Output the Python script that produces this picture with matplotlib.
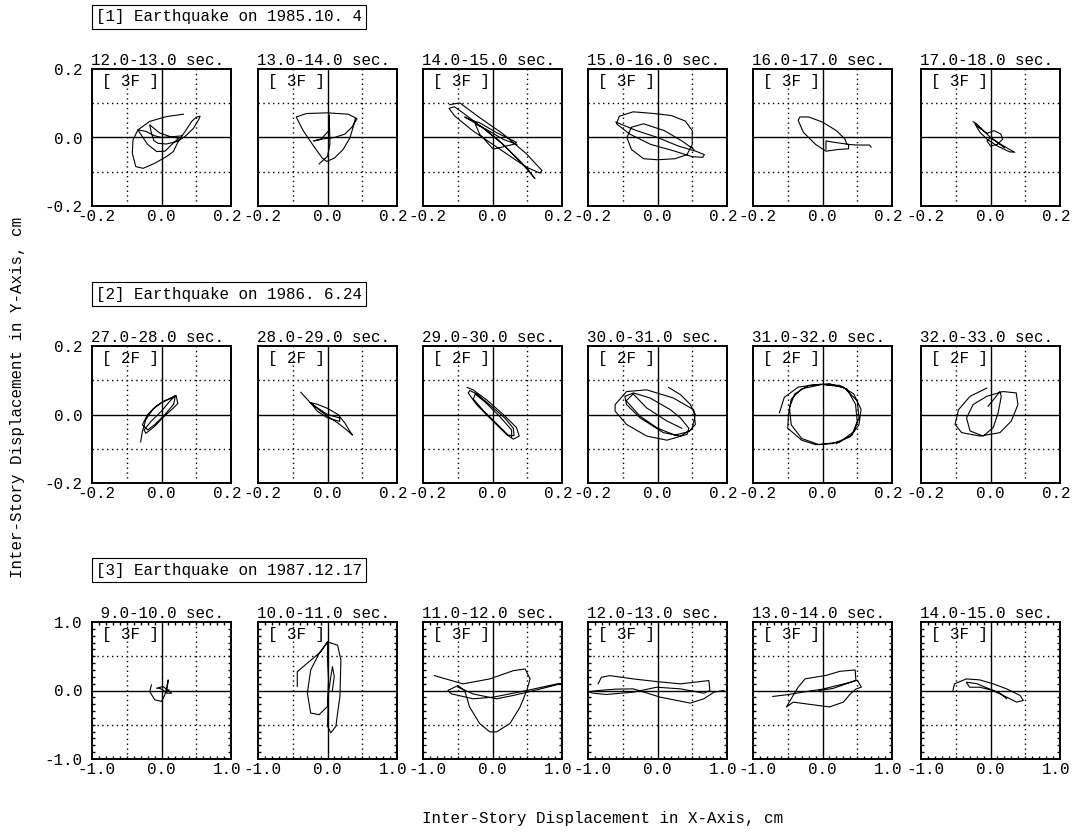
import matplotlib
matplotlib.use("Agg")
import matplotlib.pyplot as plt
import matplotlib.transforms as mtransforms
import numpy as np

plt.rcParams['font.family'] = ['Liberation Mono', 'DejaVu Sans Mono']

# event headers and time windows
events = ['[1] Earthquake on 1985.10. 4', '[2] Earthquake on 1986. 6.24', '[3] Earthquake on 1987.12.17']
floors = ['[ 3F ]', '[ 2F ]', '[ 3F ]']
limits = [0.2, 0.2, 1.0]
tick_labels = [['-0.2', '0.0', '0.2'], ['-0.2', '0.0', '0.2'], ['-1.0', '0.0', '1.0']]
windows = [
    ['12.0-13.0 sec.', '13.0-14.0 sec.', '14.0-15.0 sec.', '15.0-16.0 sec.', '16.0-17.0 sec.', '17.0-18.0 sec.'],
    ['27.0-28.0 sec.', '28.0-29.0 sec.', '29.0-30.0 sec.', '30.0-31.0 sec.', '31.0-32.0 sec.', '32.0-33.0 sec.'],
    [' 9.0-10.0 sec.', '10.0-11.0 sec.', '11.0-12.0 sec.', '12.0-13.0 sec.', '13.0-14.0 sec.', '14.0-15.0 sec.'],
]

# displacement orbits (x, y) in cm, 1985.10.4, 3F
eq1_12 = [(0.063, 0.068), (0.014, 0.061), (-0.034, 0.047), (-0.068, 0.022), (-0.082, -0.007), (-0.084, -0.046),
          (-0.074, -0.085), (-0.053, -0.09), (-0.019, -0.075), (0.014, -0.056), (0.034, -0.041), (0.048, -0.012),
          (0.068, 0.018), (0.087, 0.047), (0.101, 0.06), (0.111, 0.062), (0.108, 0.054), (0.092, 0.027),
          (0.068, 0.003), (0.043, -0.012), (0.014, -0.019), (-0.01, -0.017), (-0.022, -0.009), (-0.029, 0.013),
          (-0.034, 0.037), (-0.022, 0.027), (-0.005, 0.013), (0.024, 0.003), (0.05, -0.002), (0.035, -0.015),
          (0.01, -0.04), (-0.014, -0.041), (-0.04, -0.02), (-0.068, 0.022), (-0.045, 0.018), (-0.02, 0.005),
          (0.0, 0.0), (0.03, 0.002), (0.06, 0.005)]
eq1_13 = [(-0.024, -0.077), (0.0, -0.055), (0.007, -0.02), (0.006, 0.02), (0.005, 0.065), (0.004, 0.02),
          (-0.02, -0.006), (-0.04, -0.01), (-0.02, -0.005), (0.02, 0.0), (0.05, 0.01), (0.07, 0.03), (0.085, 0.055),
          (0.06, 0.068), (0.0, 0.072), (-0.06, 0.07), (-0.09, 0.06), (-0.07, 0.02), (-0.04, -0.025), (-0.015, -0.06),
          (-0.002, -0.07), (0.02, -0.06), (0.045, -0.035), (0.065, 0.0), (0.075, 0.035), (0.08, 0.055)]
eq1_14 = [(-0.123, 0.096), (-0.094, 0.101), (-0.037, 0.058), (0.031, 0.01), (0.098, -0.048), (0.142, -0.096),
          (0.137, -0.104), (0.098, -0.087), (0.021, -0.034), (-0.056, 0.019), (-0.109, 0.063), (-0.125, 0.085),
          (-0.11, 0.09), (-0.085, 0.072), (-0.03, 0.03), (0.03, -0.02), (0.08, -0.07), (0.122, -0.12),
          (0.1, -0.09), (0.06, -0.05), (0.02, -0.01), (-0.03, 0.03), (-0.08, 0.06), (-0.06, 0.05), (-0.037, 0.043),
          (0.012, 0.014), (0.069, -0.014), (0.06, -0.02), (0.002, -0.034), (-0.037, 0.01), (-0.05, 0.04),
          (-0.02, 0.025), (0.03, -0.005), (0.07, -0.02)]
eq1_15 = [(-0.12, 0.045), (-0.06, 0.02), (0.0, 0.0), (0.06, -0.025), (0.11, -0.04), (0.135, -0.05), (0.13, -0.058),
          (0.1, -0.056), (0.05, -0.04), (-0.02, -0.02), (-0.08, 0.01), (-0.118, 0.04), (-0.11, 0.062), (-0.07, 0.075),
          (-0.01, 0.07), (0.04, 0.064), (0.08, 0.048), (0.1, 0.02), (0.1, -0.02), (0.085, -0.05), (0.05, -0.062),
          (0.0, -0.065), (-0.04, -0.062), (-0.075, -0.035), (-0.088, 0.0), (-0.075, 0.03), (-0.04, 0.04),
          (0.02, 0.02), (0.07, -0.01), (0.105, -0.035)]
eq1_16 = [(0.01, -0.035), (0.01, -0.01), (0.04, -0.015), (0.075, -0.02), (0.075, -0.033), (0.045, -0.035),
          (0.01, -0.04), (-0.02, -0.02), (-0.055, 0.015), (-0.07, 0.05), (-0.065, 0.06), (-0.04, 0.06), (0.0, 0.045),
          (0.04, 0.02), (0.065, -0.005), (0.07, -0.02), (0.1, -0.022), (0.135, -0.022), (0.14, -0.028)]
eq1_17 = [(-0.05, 0.046), (-0.04, 0.04), (-0.02, 0.02), (0.0, 0.0), (0.03, -0.02), (0.06, -0.038), (0.07, -0.043),
          (0.055, -0.042), (0.02, -0.025), (-0.01, -0.005), (-0.03, 0.015), (-0.045, 0.04), (-0.035, 0.03),
          (-0.01, 0.012), (0.01, 0.02), (0.03, 0.01), (0.035, -0.005), (0.02, -0.02), (0.0, -0.025), (-0.01, -0.01),
          (0.0, 0.0), (0.02, -0.015), (0.04, -0.03)]

# 1986.6.24, 2F
eq2_27 = [(-0.06, -0.08), (-0.055, -0.05), (-0.045, -0.015), (-0.025, 0.015), (0.0, 0.035), (0.03, 0.05),
          (0.042, 0.056), (0.047, 0.032), (0.03, 0.015), (0.005, -0.008), (-0.02, -0.035), (-0.045, -0.055),
          (-0.05, -0.045), (-0.03, -0.02), (0.0, 0.01), (0.025, 0.04), (0.04, 0.055), (0.035, 0.03), (0.01, 0.0),
          (-0.02, -0.03), (-0.04, -0.045), (-0.055, -0.03), (-0.04, 0.0), (-0.015, 0.025), (0.01, 0.04),
          (0.035, 0.05)]
eq2_28 = [(-0.077, 0.065), (-0.05, 0.035), (-0.02, 0.01), (0.0, -0.005), (0.03, -0.025), (0.055, -0.045),
          (0.072, -0.06), (0.065, -0.05), (0.05, -0.025), (0.03, -0.0), (0.0, 0.018), (-0.03, 0.03),
          (-0.05, 0.035), (-0.03, 0.02), (0.0, 0.0), (0.035, -0.01), (0.035, -0.02), (0.0, -0.01), (-0.03, 0.01),
          (-0.045, 0.03)]
eq2_29 = [(-0.073, 0.079), (-0.056, 0.072), (-0.017, 0.043), (0.031, 0.0), (0.069, -0.038), (0.077, -0.063),
          (0.06, -0.072), (0.04, -0.058), (-0.008, -0.01), (-0.046, 0.029), (-0.07, 0.063), (-0.065, 0.07),
          (-0.045, 0.06), (-0.01, 0.03), (0.035, -0.01), (0.06, -0.04), (0.062, -0.062), (0.045, -0.06),
          (0.015, -0.03), (-0.025, 0.01), (-0.055, 0.045), (-0.05, 0.06), (-0.02, 0.035), (0.02, -0.005),
          (0.055, -0.045), (0.055, -0.065)]
eq2_30 = [(0.032, 0.079), (0.066, 0.058), (0.094, 0.03), (0.109, 0.0), (0.099, -0.043), (0.066, -0.063),
          (0.017, -0.053), (-0.05, -0.01), (-0.089, 0.029), (-0.094, 0.053), (-0.069, 0.063), (-0.021, 0.048),
          (0.037, 0.014), (0.066, -0.01), (0.09, -0.04), (0.085, -0.058), (0.027, -0.075), (-0.031, -0.063),
          (-0.089, -0.029), (-0.122, 0.01), (-0.122, 0.029), (-0.089, 0.067), (-0.031, 0.072), (0.046, 0.048),
          (0.104, 0.014), (0.109, -0.029), (0.09, -0.05), (0.05, -0.06), (0.0, -0.04), (-0.05, -0.005),
          (-0.09, 0.04), (-0.07, 0.06), (-0.031, 0.019), (0.027, -0.019), (0.07, -0.04)]
eq2_31 = [(-0.124, 0.005), (-0.11, 0.05), (-0.07, 0.08), (-0.01, 0.088), (0.05, 0.085), (0.09, 0.06),
          (0.111, 0.015), (0.105, -0.03), (0.08, -0.065), (0.03, -0.085), (-0.02, -0.088), (-0.06, -0.075),
          (-0.1, -0.04), (-0.098, 0.0), (-0.09, 0.045), (-0.06, 0.075), (0.0, 0.088), (0.06, 0.08), (0.1, 0.04),
          (0.105, -0.01), (0.09, -0.05), (0.05, -0.08), (-0.01, -0.088), (-0.06, -0.07), (-0.09, -0.03),
          (-0.095, 0.02), (-0.08, 0.06), (-0.04, 0.085), (0.02, 0.09), (0.07, 0.075), (0.095, 0.03), (0.1, -0.02),
          (0.085, -0.06), (0.04, -0.085)]
eq2_32 = [(-0.011, 0.077), (-0.059, 0.053), (-0.092, 0.014), (-0.102, -0.029), (-0.083, -0.053),
          (-0.03, -0.063), (0.027, -0.053), (0.06, -0.019), (0.079, 0.029), (0.074, 0.063), (0.036, 0.067),
          (-0.011, 0.053), (-0.05, 0.029), (-0.069, -0.01), (-0.059, -0.048), (-0.021, -0.063), (0.008, -0.038),
          (0.022, 0.005), (0.031, 0.053), (0.027, 0.067), (0.01, 0.045), (-0.007, 0.024)]

# 1987.12.17, 3F
eq3_09 = [(-0.145, 0.082), (-0.17, -0.015), (-0.097, -0.135), (0.0, -0.16), (0.048, -0.063), (0.072, 0.034),
          (0.097, 0.155), (0.072, -0.039), (0.145, -0.039), (0.024, 0.058), (-0.072, 0.034), (-0.02, 0.03),
          (0.06, -0.02), (0.11, 0.01)]
eq3_10 = [(-0.435, 0.058), (-0.435, 0.275), (-0.266, 0.42), (-0.097, 0.565), (0.0, 0.71), (-0.121, 0.541),
          (-0.242, 0.3), (-0.29, -0.039), (-0.242, -0.329), (-0.121, -0.353), (0.0, -0.232), (0.014, 0.155),
          (0.0, 0.45), (0.0, 0.71), (0.145, 0.662), (0.193, 0.444), (0.179, -0.087), (0.145, -0.329),
          (0.121, -0.522), (0.048, -0.618), (0.0, -0.52), (0.014, -0.039), (0.048, 0.203), (0.072, 0.348),
          (0.097, 0.203), (0.07, 0.0)]
eq3_11 = [(-0.836, 0.217), (-0.425, 0.097), (-0.039, 0.169), (0.3, 0.29), (0.469, 0.314), (0.541, 0.169),
          (0.493, 0.0), (0.396, -0.242), (0.251, -0.483), (0.058, -0.604), (-0.039, -0.604), (-0.184, -0.483),
          (-0.329, -0.242), (-0.401, 0.0), (-0.498, 0.072), (-0.643, 0.0), (-0.594, -0.048), (-0.28, -0.121),
          (0.01, -0.097), (0.493, 0.0), (0.928, 0.097), (0.99, 0.1), (0.6, 0.0), (0.3, -0.072), (0.058, -0.121),
          (-0.28, -0.05), (-0.5, 0.05)]
eq3_12 = [(-0.855, 0.097), (-0.807, 0.193), (-0.686, 0.217), (-0.348, 0.169), (-0.01, 0.13), (0.329, 0.097),
          (0.739, 0.145), (0.754, 0.0), (0.667, -0.039), (0.329, 0.024), (-0.01, 0.048), (-0.348, -0.024),
          (-0.734, -0.058), (-0.928, -0.039), (-0.99, -0.02), (-0.855, 0.0), (-0.6, 0.02), (-0.348, 0.024),
          (0.039, -0.097), (0.473, -0.184), (0.667, -0.121), (0.812, -0.024), (0.957, 0.0)]
eq3_13 = [(-0.715, -0.087), (-0.5, -0.06), (-0.2, -0.01), (0.0, 0.02), (0.2, 0.07), (0.4, 0.12), (0.5, 0.15),
          (0.56, 0.05), (0.48, 0.02), (0.4, -0.05), (0.3, -0.17), (0.1, -0.24), (-0.2, -0.2), (-0.42, -0.17),
          (-0.52, -0.24), (-0.45, -0.12), (-0.35, 0.05), (-0.25, 0.17), (0.05, 0.22), (0.25, 0.28), (0.47, 0.3),
          (0.48, 0.15), (0.35, 0.1), (0.15, 0.03), (-0.05, 0.0)]
eq3_14 = [(-0.541, 0.0), (-0.517, 0.097), (-0.348, 0.169), (-0.155, 0.155), (0.039, 0.097), (0.232, 0.024),
          (0.425, -0.072), (0.473, -0.145), (0.377, -0.169), (0.232, -0.097), (0.039, 0.0), (-0.155, 0.048),
          (-0.3, 0.048), (-0.348, 0.121), (-0.2, 0.1), (0.135, -0.039), (0.232, -0.121)]

orbits = [
    [eq1_12, eq1_13, eq1_14, eq1_15, eq1_16, eq1_17],
    [eq2_27, eq2_28, eq2_29, eq2_30, eq2_31, eq2_32],
    [eq3_09, eq3_10, eq3_11, eq3_12, eq3_13, eq3_14],
]

W, H = 1076, 838
fig = plt.figure(figsize=(W / 100, H / 100), dpi=100)

lefts = [92, 258, 423, 588, 753, 921]
tops = [69, 346, 622]
box_tops = [4, 281, 557]
pw, ph = 139, 137
fs = 11.4

# small nudge so the edge labels of neighbouring panels just touch
nudge_l = mtransforms.ScaledTranslation(4 / 100, 0, fig.dpi_scale_trans)
nudge_r = mtransforms.ScaledTranslation(-4 / 100, 0, fig.dpi_scale_trans)

for r in range(3):
    lim = limits[r]
    fig.text(96 / W, 1 - (box_tops[r] + 13) / H, events[r], fontsize=fs, va='center', ha='left',
             bbox=dict(boxstyle='square,pad=0.28', fc='white', ec='black', lw=0.8))
    for c in range(6):
        ax = fig.add_axes([lefts[c] / W, 1 - (tops[r] + ph) / H, pw / W, ph / H])
        ax.set_xlim(-lim, lim)
        ax.set_ylim(-lim, lim)
        for v in (-lim / 2, lim / 2):
            ax.axvline(v, color='black', ls=(0, (1, 2.5)), lw=1.0)
            ax.axhline(v, color='black', ls=(0, (1, 2.5)), lw=1.0)
        ax.axvline(0, color='black', lw=1.0)
        ax.axhline(0, color='black', lw=1.0)

        pts = np.array(orbits[r][c])
        ax.plot(pts[:, 0], pts[:, 1], color='black', lw=0.8)

        ax.text(0.075, 0.96, floors[r], transform=ax.transAxes, fontsize=fs, va='top', ha='left')
        ax.set_title(windows[r][c], fontsize=fs, loc='left', pad=3, x=-0.01)

        ax.set_xticks([-lim, 0, lim])
        ax.set_xticklabels(tick_labels[r], fontsize=fs)
        ax.set_yticks([-lim, 0, lim])
        if c == 0:
            ax.set_yticklabels(tick_labels[r], fontsize=fs)
        else:
            ax.set_yticklabels([])
        ax.tick_params(axis='x', length=0, pad=2)
        ax.tick_params(axis='y', length=0, pad=7)
        xl = ax.get_xticklabels()
        xl[0].set_transform(xl[0].get_transform() + nudge_l)
        xl[-1].set_transform(xl[-1].get_transform() + nudge_r)
        if r == 2:
            ax.set_xticks(np.linspace(-lim, lim, 21), minor=True)
            ax.set_yticks(np.linspace(-lim, lim, 21), minor=True)
            ax.tick_params(which='minor', direction='in', length=2.5, width=1.0,
                           top=True, right=True, bottom=True, left=True)
        for s in ax.spines.values():
            s.set_linewidth(1.4)

fig.text(603 / W, 1 - 818 / H, 'Inter-Story Displacement in X-Axis, cm', fontsize=fs, ha='center', va='center')
fig.text(18 / W, 1 - 398 / H, 'Inter-Story Displacement in Y-Axis, cm', fontsize=fs, ha='center', va='center',
         rotation=90)

fig.savefig('out.png', dpi=100, facecolor='white')
